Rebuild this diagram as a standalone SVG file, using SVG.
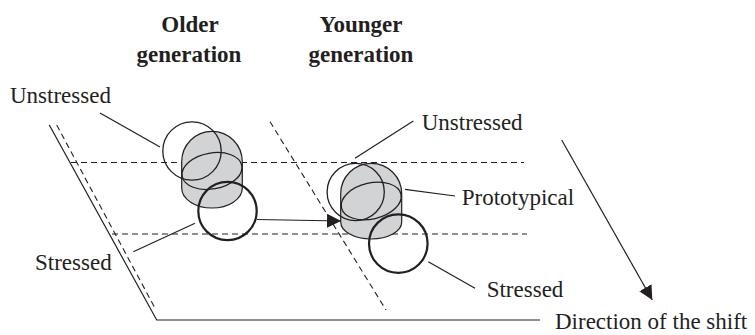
<svg xmlns="http://www.w3.org/2000/svg" width="755" height="335" viewBox="0 0 755 335">
<defs>
<style>
.t{font-family:"Liberation Serif","Times New Roman",serif;font-size:23px;fill:#231f20}
.h{font-family:"Liberation Serif","Times New Roman",serif;font-size:23px;font-weight:bold;fill:#231f20;text-anchor:middle}
.ln{stroke:#231f20;stroke-width:1.2;fill:none}
.ds{stroke:#231f20;stroke-width:1.1;fill:none;stroke-dasharray:6 4}
.cyl{fill:#d1d3d4;stroke:#231f20;stroke-width:1.2}
.thin{fill:none;stroke:#231f20;stroke-width:1.3}
.bold{fill:none;stroke:#231f20;stroke-width:2.2}
</style>
<marker id="ah" markerUnits="userSpaceOnUse" markerWidth="14" markerHeight="14" viewBox="0 0 12 12" refX="12" refY="6" orient="auto">
<path d="M0,0 L12,6 L0,12 Z" fill="#231f20"/>
</marker>
</defs>
<rect width="755" height="335" fill="#fff"/>
<g id="frame">
<line class="ds" x1="71" y1="162.5" x2="524" y2="162.5"/>
<line class="ds" x1="112" y1="234" x2="527" y2="234"/>
<line class="ds" x1="56.7" y1="125" x2="156" y2="310"/>
<line class="ds" x1="270" y1="121.7" x2="386" y2="310"/>
<polyline class="ln" points="49.3,125 156.7,320 540,320"/>
</g>
<g id="older">
<path class="cyl" d="M181.7,161.7 A30.3,30.3 0 0 1 242.3,161.7 L242.3,188 A30.3,20 0 0 1 181.7,188 Z"/>
<ellipse class="thin" cx="212" cy="171" rx="30.3" ry="18" transform="rotate(-10 212 171)"/>
<circle class="thin" cx="192" cy="151" r="29.2"/>
<circle class="bold" cx="227.5" cy="211" r="29.2"/>
</g>
<g id="younger">
<path class="cyl" d="M340.7,193.8 A30.5,30.5 0 0 1 401.7,193.8 L401.7,222 A30.5,17 0 0 1 340.7,222 Z"/>
<ellipse class="thin" cx="371.2" cy="201" rx="30.5" ry="18" transform="rotate(-13 371.2 201)"/>
<circle class="thin" cx="355.7" cy="192" r="28.6"/>
<circle class="bold" cx="398.3" cy="243.6" r="29.3"/>
</g>
<g id="connectors">
<line class="ln" x1="257" y1="219.5" x2="341" y2="221" marker-end="url(#ah)"/>
<line class="ln" x1="561.7" y1="140" x2="652.3" y2="300" marker-end="url(#ah)"/>
<line class="ln" x1="100" y1="113" x2="160" y2="147"/>
<line class="ln" x1="195" y1="223.3" x2="133.3" y2="251.7"/>
<line class="ln" x1="413.3" y1="121" x2="355" y2="158.3"/>
<line class="ln" x1="405" y1="189.3" x2="455" y2="196"/>
<line class="ln" x1="428.3" y1="261.7" x2="475" y2="288.3"/>
</g>
<g id="labels">
<text class="h" x="190" y="31.7">Older</text>
<text class="h" x="189" y="61.7">generation</text>
<text class="h" x="361" y="31.7">Younger</text>
<text class="h" x="361" y="61.7">generation</text>
<text class="t" x="10" y="103">Unstressed</text>
<text class="t" x="35" y="270">Stressed</text>
<text class="t" x="421.7" y="130">Unstressed</text>
<text class="t" x="461.7" y="205">Prototypical</text>
<text class="t" x="486.7" y="297">Stressed</text>
<text class="t" x="555" y="329">Direction of the shift</text>
</g>
</svg>
